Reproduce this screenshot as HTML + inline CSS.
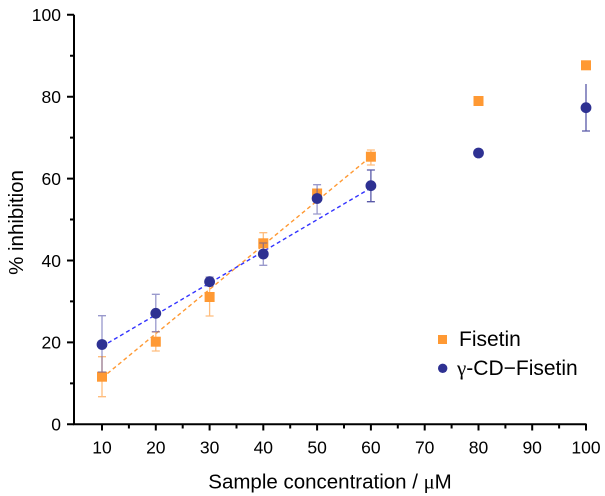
<!DOCTYPE html>
<html><head><meta charset="utf-8"><style>
html,body{margin:0;padding:0;background:#fff;}
svg{display:block;font-family:"Liberation Sans",Arial,sans-serif;}
</style></head><body>
<svg width="605" height="496" viewBox="0 0 605 496" xmlns="http://www.w3.org/2000/svg">
<rect width="605" height="496" fill="#fff"/>
<!-- dashed fit lines -->
<line x1="102" y1="378" x2="370.9" y2="156.5" stroke="#FF9933" stroke-width="1.4" stroke-dasharray="4,3"/>
<line x1="102" y1="346.5" x2="370.9" y2="188" stroke="#3333FF" stroke-width="1.4" stroke-dasharray="4,3"/>
<!-- orange error bars -->
<g stroke="#FFB266" stroke-width="1.3" stroke-opacity="0.85" fill="none">
<path d="M102 356.7V396.7M98 356.7H106M98 396.7H106"/>
<path d="M155.8 332V351M151.8 332H159.8M151.8 351H159.8"/>
<path d="M209.6 278V316M205.6 278H213.6M205.6 316H213.6"/>
<path d="M263.3 232.7V254M259.3 232.7H267.3M259.3 254H267.3"/>
<path d="M317.1 189.5V197.5M313.1 189.5H321.1M313.1 197.5H321.1"/>
<path d="M370.9 150V165M366.9 150H374.9M366.9 165H374.9"/>
</g>
<!-- orange squares -->
<g fill="#FF9933">
<rect x="97" y="371.7" width="10" height="10"/>
<rect x="150.8" y="336.7" width="10" height="10"/>
<rect x="204.6" y="292" width="10" height="10"/>
<rect x="258.3" y="238.3" width="10" height="10"/>
<rect x="312.1" y="188.5" width="10" height="10"/>
<rect x="365.9" y="151.7" width="10" height="10"/>
<rect x="473.5" y="96" width="10" height="10"/>
<rect x="581" y="60.3" width="10" height="10"/>
</g>
<!-- blue error bars -->
<g stroke="#5555AA" stroke-width="1.3" stroke-opacity="0.6" fill="none">
<path d="M102 315.7V372M98 315.7H106M98 372H106"/>
<path d="M155.8 294.3V331.7M151.8 294.3H159.8M151.8 331.7H159.8"/>
<path d="M209.6 277V286M205.6 277H213.6M205.6 286H213.6"/>
<path d="M263.3 243V265.3M259.3 243H267.3M259.3 265.3H267.3"/>
<path d="M317.1 184.7V214M313.1 184.7H321.1M313.1 214H321.1"/>
</g>
<g stroke="#3C3C99" stroke-width="1.3" fill="none" stroke-opacity="0.85">
<path d="M370.9 170V201.7M366.9 170H374.9M366.9 201.7H374.9"/>
<path d="M586 84V131M582 131H590"/>
</g>
<!-- blue circles -->
<g fill="#2E3192">
<circle cx="102" cy="344.5" r="5.4"/>
<circle cx="155.8" cy="313.3" r="5.4"/>
<circle cx="209.6" cy="281.7" r="5.4"/>
<circle cx="263.3" cy="254" r="5.4"/>
<circle cx="317.1" cy="198.5" r="5.4"/>
<circle cx="370.9" cy="185.7" r="5.4"/>
<circle cx="478.5" cy="153" r="5.4"/>
<circle cx="586" cy="107.7" r="5.4"/>
</g>
<!-- axes -->
<g stroke="#000" stroke-width="2" fill="none">
<path d="M74 14.8V424.3H586.5"/>
<!-- y major ticks -->
<path d="M67 14.8H74M67 96.7H74M67 178.6H74M67 260.5H74M67 342.4H74M67 424.3H74"/>
<!-- y minor ticks -->
<path d="M70 55.7H74M70 137.6H74M70 219.5H74M70 301.4H74M70 383.4H74"/>
<!-- x major ticks -->
<path d="M102 424V430.5M155.8 424V430.5M209.6 424V430.5M263.3 424V430.5M317.1 424V430.5M370.9 424V430.5M424.7 424V430.5M478.5 424V430.5M532.2 424V430.5M586 424V430.5"/>
<!-- x minor ticks -->
<path d="M128.9 424V428.5M182.7 424V428.5M236.5 424V428.5M290.2 424V428.5M344 424V428.5M397.8 424V428.5M451.6 424V428.5M505.4 424V428.5M559.1 424V428.5"/>
</g>
<!-- y tick labels -->
<g font-size="17.5" text-anchor="end" fill="#000">
<text x="61" y="21.1">100</text>
<text x="61" y="103">80</text>
<text x="61" y="184.9">60</text>
<text x="61" y="266.8">40</text>
<text x="61" y="348.7">20</text>
<text x="61" y="430.6">0</text>
</g>
<!-- x tick labels -->
<g font-size="17.5" text-anchor="middle" fill="#000">
<text x="102" y="453.3">10</text>
<text x="155.8" y="453.3">20</text>
<text x="209.6" y="453.3">30</text>
<text x="263.3" y="453.3">40</text>
<text x="317.1" y="453.3">50</text>
<text x="370.9" y="453.3">60</text>
<text x="424.7" y="453.3">70</text>
<text x="478.5" y="453.3">80</text>
<text x="532.2" y="453.3">90</text>
<text x="586" y="453.3">100</text>
</g>
<!-- axis titles -->
<text x="330" y="488.5" font-size="20.5" text-anchor="middle" fill="#000">Sample concentration / <tspan font-family="Liberation Serif, serif">μ</tspan>M</text>
<text transform="translate(23,222.5) rotate(-90)" font-size="20.5" text-anchor="middle" fill="#000">% inhibition</text>
<!-- legend -->
<rect x="438" y="335" width="9" height="9" fill="#FF9933"/>
<text x="459" y="346" font-size="21" fill="#000">Fisetin</text>
<circle cx="442.7" cy="368.3" r="4.7" fill="#2E3192"/>
<text x="457" y="375" font-size="21" fill="#000"><tspan font-family="Liberation Serif, serif">γ</tspan>-CD−Fisetin</text>
</svg>
</body></html>
